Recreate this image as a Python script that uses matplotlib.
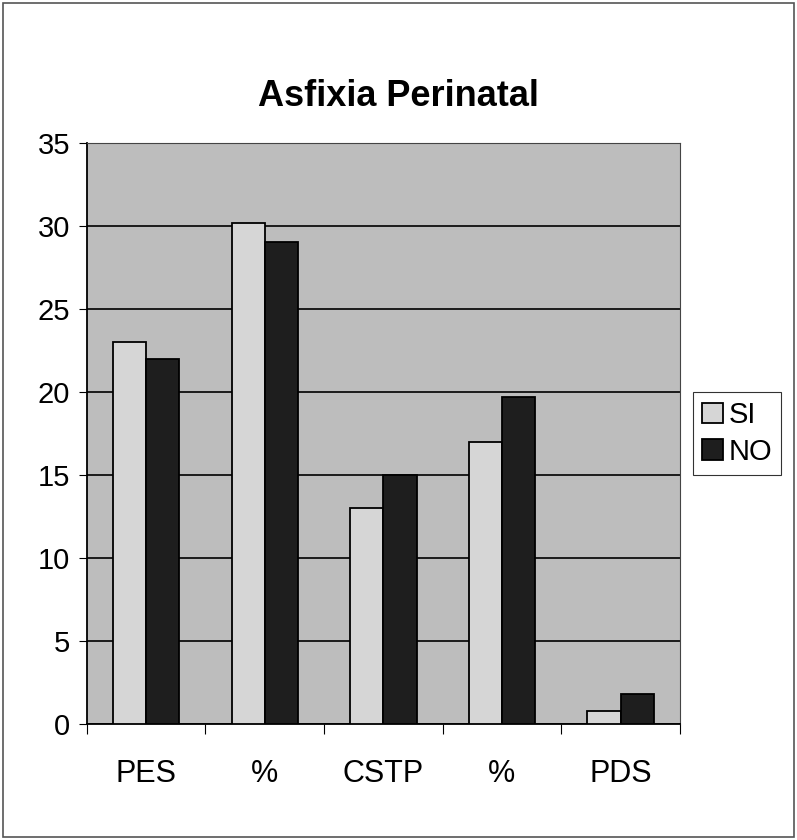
import matplotlib
matplotlib.use('Agg')
import matplotlib.pyplot as plt
import numpy as np

plt.rcParams['font.family'] = ['Liberation Sans', 'DejaVu Sans']

categories = ['PES', '%', 'CSTP', '%', 'PDS']
si_values = [23, 30.2, 13, 17, 0.8]
no_values = [22, 29, 15, 19.7, 1.8]
series_names = ['SI', 'NO']

fig = plt.figure(figsize=(7.97, 8.40), dpi=100)
fig.patch.set_facecolor('white')
fig.patches.append(plt.Rectangle((0.004, 0.004), 0.992, 0.992, transform=fig.transFigure,
                                 fill=False, edgecolor='#555555', linewidth=1.2))

ax = fig.add_axes([0.109, 0.138, 0.744, 0.692])
ax.set_facecolor('#bdbdbd')

x = np.arange(len(categories))
w = 0.28
ax.bar(x - w / 2, si_values, w, color='#d6d6d6', edgecolor='black', linewidth=1.3,
       label=series_names[0], zorder=3)
ax.bar(x + w / 2, no_values, w, color='#1e1e1e', edgecolor='black', linewidth=1.3,
       label=series_names[1], zorder=3)

ax.set_xlim(-0.5, len(categories) - 0.5)
ax.set_ylim(0, 35)
ax.set_yticks(np.arange(0, 36, 5))
ax.yaxis.grid(True, color='black', linewidth=1.2, zorder=1)
ax.set_axisbelow(True)

ax.set_xticks(np.arange(-0.5, len(categories), 1))
ax.set_xticklabels([])
ax.set_xticks(x, minor=True)
ax.set_xticklabels(categories, minor=True, fontsize=22)
ax.tick_params(axis='x', which='minor', length=0, pad=25)
ax.tick_params(axis='x', which='major', length=7, direction='out')
ax.tick_params(axis='y', labelsize=21, length=6, direction='out', pad=6)

for s in ['top', 'right']:
    ax.spines[s].set_color('#444444')
    ax.spines[s].set_linewidth(0.8)
ax.spines['left'].set_linewidth(1.3)
ax.spines['bottom'].set_linewidth(1.3)

fig.text(0.5, 0.885, 'Asfixia Perinatal', ha='center', va='center',
         fontsize=26, fontweight='bold')

leg = ax.legend(loc='center left', bbox_to_anchor=(1.008, 0.5), fontsize=21,
                frameon=True, fancybox=False, edgecolor='black', handlelength=0.7,
                handleheight=0.7, handletextpad=0.2, borderpad=0.3, labelspacing=0.3,
                borderaxespad=0.3)
leg.get_frame().set_linewidth(0.8)

fig.savefig('out.png', dpi=100)
